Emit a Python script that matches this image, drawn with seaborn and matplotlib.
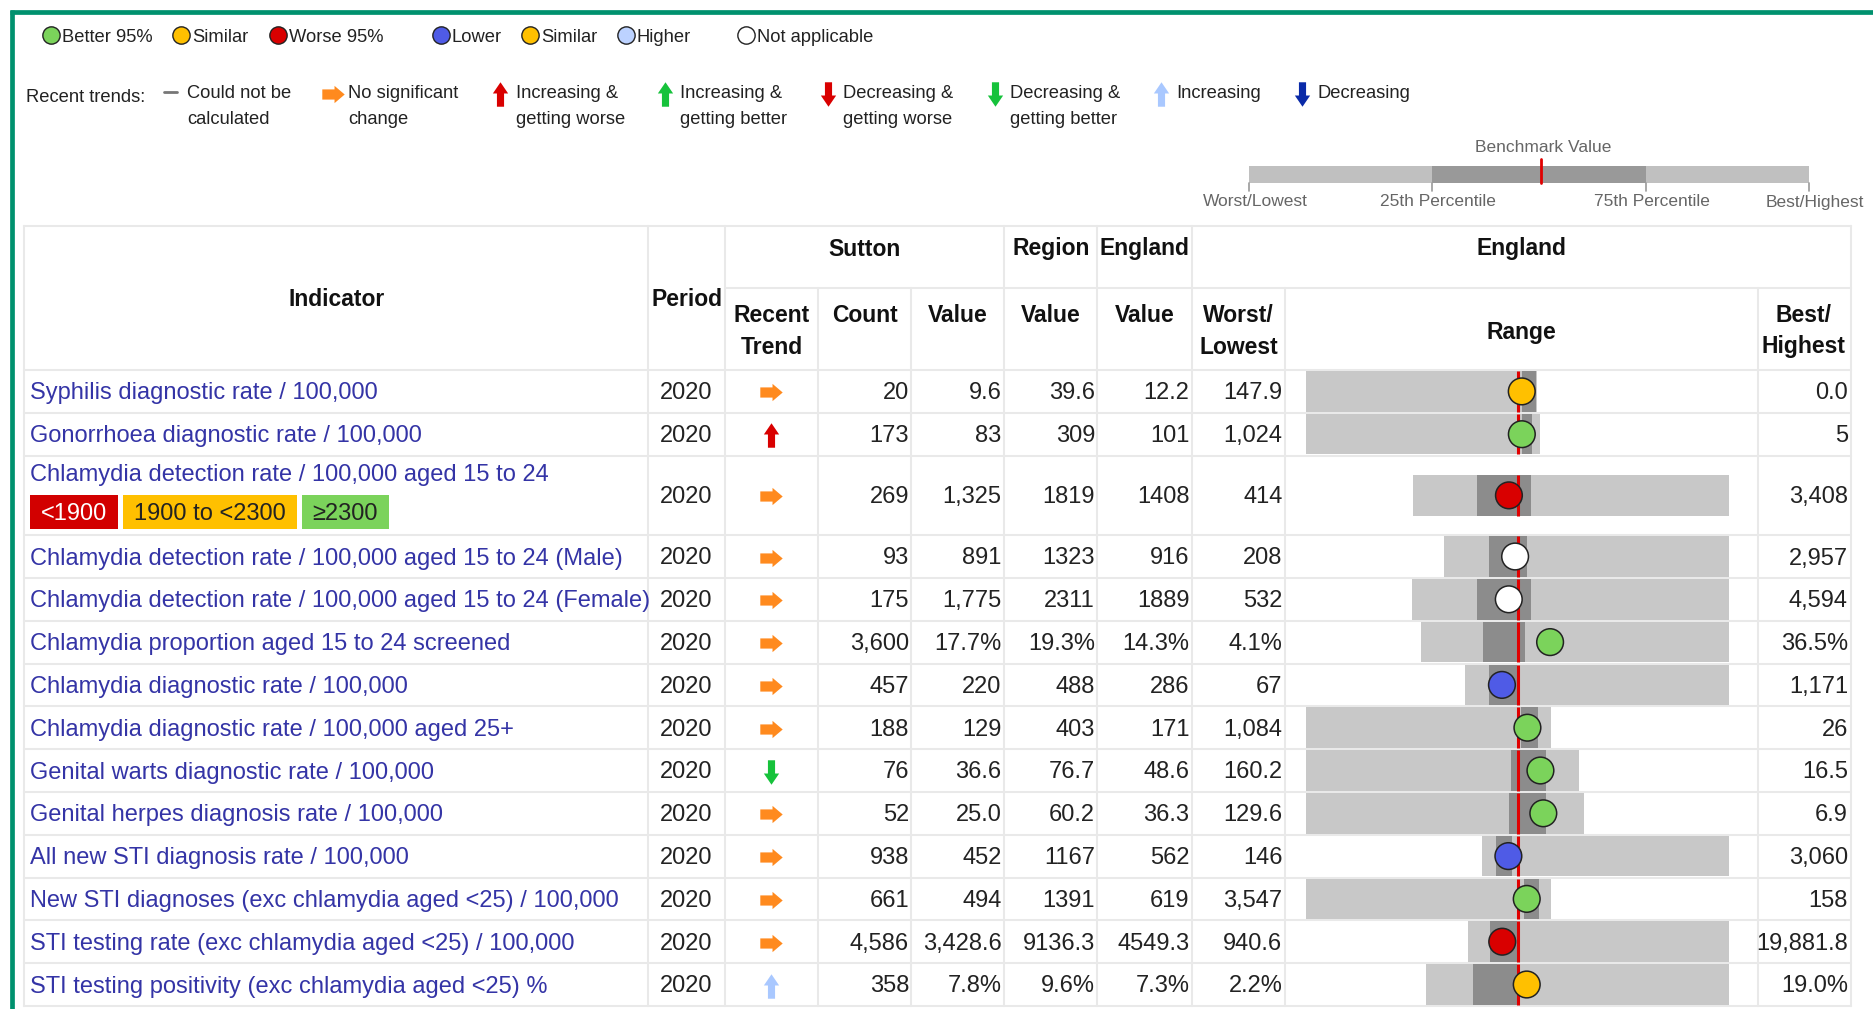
import numpy as np
import pandas as pd
import matplotlib.pyplot as plt
import seaborn as sns
from matplotlib.path import Path
from matplotlib.patches import Rectangle

# ---- data ----
indicators = ["Syphilis diagnostic rate / 100,000",
              "Gonorrhoea diagnostic rate / 100,000",
              "Chlamydia detection rate / 100,000 aged 15 to 24",
              "Chlamydia detection rate / 100,000 aged 15 to 24 (Male)",
              "Chlamydia detection rate / 100,000 aged 15 to 24 (Female)",
              "Chlamydia proportion aged 15 to 24 screened",
              "Chlamydia diagnostic rate / 100,000",
              "Chlamydia diagnostic rate / 100,000 aged 25+",
              "Genital warts diagnostic rate / 100,000",
              "Genital herpes diagnosis rate / 100,000",
              "All new STI diagnosis rate / 100,000",
              "New STI diagnoses (exc chlamydia aged <25) / 100,000",
              "STI testing rate (exc chlamydia aged <25) / 100,000",
              "STI testing positivity (exc chlamydia aged <25) %"]
periods = ["2020"] * 14
trends = ["flat", "up_worse", "flat", "flat", "flat", "flat", "flat", "flat",
          "down_better", "flat", "flat", "flat", "flat", "up"]
counts = ["20", "173", "269", "93", "175", "3,600", "457", "188", "76", "52",
          "938", "661", "4,586", "358"]
local_val = [9.6, 83, 1325, 891, 1775, 17.7, 220, 129, 36.6, 25.0, 452, 494, 3428.6, 7.8]
local_lbl = ["9.6", "83", "1,325", "891", "1,775", "17.7%", "220", "129", "36.6",
             "25.0", "452", "494", "3,428.6", "7.8%"]
region_lbl = ["39.6", "309", "1819", "1323", "2311", "19.3%", "488", "403", "76.7",
              "60.2", "1167", "1391", "9136.3", "9.6%"]
england_val = [12.2, 101, 1408, 916, 1889, 14.3, 286, 171, 48.6, 36.3, 562, 619, 4549.3, 7.3]
england_lbl = ["12.2", "101", "1408", "916", "1889", "14.3%", "286", "171", "48.6",
               "36.3", "562", "619", "4549.3", "7.3%"]
worst_val = [147.9, 1024, 414, 208, 532, 4.1, 67, 1084, 160.2, 129.6, 146, 3547, 940.6, 2.2]
worst_lbl = ["147.9", "1,024", "414", "208", "532", "4.1%", "67", "1,084", "160.2",
             "129.6", "146", "3,547", "940.6", "2.2%"]
best_val = [0.0, 5, 3408, 2957, 4594, 36.5, 1171, 26, 16.5, 6.9, 3060, 158, 19881.8, 19.0]
best_lbl = ["0.0", "5", "3,408", "2,957", "4,594", "36.5%", "1,171", "26", "16.5",
            "6.9", "3,060", "158", "19,881.8", "19.0%"]
# 25th / 75th percentile (estimated from the dark band)
q25_val = [9.3, 80.9, 1020, 639, 1365, 10.7, 166, 156.8, 52.3, 40.1, 302, 532, 2563, 4.84]
q75_val = [0.5, 37.3, 1534, 1009, 2059, 15.1, 283, 84.7, 33.7, 23.8, 491, 320, 4477, 7.25]
signif = ["similar", "better", "worse", "na", "na", "better", "lower", "better",
          "better", "better", "lower", "better", "worse", "similar"]
band_labels = ["<1900", "1900 to <2300", "\u22652300"]

# ---- style ----
sns.set_style("white")
plt.rcParams["font.family"] = ["Liberation Sans", "DejaVu Sans"]

sig_colors = {"better": "#7bd35b", "similar": "#ffc000", "worse": "#d90000",
              "lower": "#4f5be6", "higher": "#bcd2ff", "na": "#ffffff"}
grid_c = "#e9e9e9"
link_c = "#3434a6"
txt_c = "#222222"
light_c, dark_c, bench_c = "#c8c8c8", "#8c8c8c", "#e00000"
dy = 2  # text baseline nudge

W, H = 1873, 1009
fig = plt.figure(figsize=(W / 100, H / 100), dpi=100)
ax = fig.add_axes([0, 0, 1, 1])
ax.set_xlim(0, W)
ax.set_ylim(H, 0)
ax.axis("off")

# arrow markers
def arrow_right():
    v = [(-11, -5), (1, -5), (1, -8.5), (11, 0), (1, 8.5), (1, 5), (-11, 5), (-11, -5)]
    return Path(v, closed=True)

def arrow_up():
    v = [(-3.5, -12), (3.5, -12), (3.5, 1), (7.5, 1), (0, 12), (-7.5, 1), (-3.5, 1), (-3.5, -12)]
    return Path(v, closed=True)

def arrow_down():
    v = [(x, -y) for x, y in arrow_up().vertices]
    return Path(v, closed=True)

trend_style = {"flat": (arrow_right(), "#ff8a1e", 260),
               "up_worse": (arrow_up(), "#d90000", 310),
               "up_better": (arrow_up(), "#16c23b", 310),
               "down_worse": (arrow_down(), "#d90000", 310),
               "down_better": (arrow_down(), "#16c23b", 310),
               "up": (arrow_up(), "#a9c8ff", 310),
               "down": (arrow_down(), "#0a2aa8", 310)}

# ---- green frame ----
ax.plot([10, W], [11.5, 11.5], color="#00916e", lw=3.4, solid_capstyle="butt")
ax.plot([12.5, 12.5], [10, H], color="#00916e", lw=3.4, solid_capstyle="butt")

# ---- legends ----
leg_y = 35
circ = [(51, "better", "Better 95%"), (181.5, "similar", "Similar"), (278, "worse", "Worse 95%"),
        (441, "lower", "Lower"), (530.5, "similar", "Similar"), (626, "higher", "Higher"),
        (746.5, "na", "Not applicable")]
for x, k, lab in circ:
    ax.scatter(x, leg_y, s=155, color=sig_colors[k], edgecolor="#222", linewidth=1, zorder=3)
    ax.text(x + 11, leg_y + dy, lab, fontsize=13.2, color=txt_c, va="center", ha="left")

ax.text(26, 96 + dy, "Recent trends:", fontsize=13.2, color=txt_c, va="center")
ax.plot([164, 177], [92, 92], color="#777", lw=2)
ax.text(187.5, 92 + dy, "Could not be", fontsize=13.2, color=txt_c, va="center")
ax.text(187.5, 117 + dy, "calculated", fontsize=13.2, color=txt_c, va="center")
trend_leg = [(333, "flat", "No significant", "change"),
             (500.5, "up_worse", "Increasing &", "getting worse"),
             (665, "up_better", "Increasing &", "getting better"),
             (828, "down_worse", "Decreasing &", "getting worse"),
             (995, "down_better", "Decreasing &", "getting better"),
             (1161, "up", "Increasing", ""),
             (1302, "down", "Decreasing", "")]
for x, k, l1, l2 in trend_leg:
    mk, col, s = trend_style[k]
    ax.scatter(x, 94, marker=mk, s=s, color=col, linewidth=0, zorder=3)
    ax.text(x + 15.5, 92 + dy, l1, fontsize=13.2, color=txt_c, va="center")
    if l2:
        ax.text(x + 15.5, 117 + dy, l2, fontsize=13.2, color=txt_c, va="center")

# benchmark key
kx = [1249, 1432, 1646, 1809]
ax.add_patch(Rectangle((kx[0], 166), kx[3] - kx[0], 17, color="#c0c0c0", lw=0))
ax.add_patch(Rectangle((kx[1], 166), kx[2] - kx[1], 17, color="#999999", lw=0))
ax.plot([1541, 1541], [159, 183], color=bench_c, lw=2)
for x in kx:
    ax.plot([x, x], [183, 191], color="#999", lw=1.2)
ax.text(1543, 145 + dy, "Benchmark Value", fontsize=12.5, color="#666", ha="center", va="center")
for x, lab in zip(kx, ["Worst/Lowest", "25th Percentile", "75th Percentile", "Best/Highest"]):
    ax.text(x + 6, 200 + dy, lab, fontsize=12.5, color="#666", ha="center", va="center")

# ---- table grid ----
cols = [24, 648, 725, 818, 911.5, 1004, 1097.5, 1192, 1285, 1758, 1851]
h_top, h_mid, h_bot = 226, 288, 370
row_h = np.full(14, 42.8)
row_h[2] = 79.5
edges = h_bot + np.concatenate([[0], np.cumsum(row_h)])
centers = (edges[:-1] + edges[1:]) / 2
bottom = edges[-1]

glw = 1.5
ax.plot([cols[0], cols[-1]], [h_top, h_top], color=grid_c, lw=glw)
ax.plot([cols[2], cols[-1]], [h_mid, h_mid], color=grid_c, lw=glw)
for e in edges:
    ax.plot([cols[0], cols[-1]], [e, e], color=grid_c, lw=glw)
for x in [24, 648, 725, 1004, 1097.5, 1192, 1851]:
    ax.plot([x, x], [h_top, bottom], color=grid_c, lw=glw)
for x in [818, 911.5, 1285, 1758]:
    ax.plot([x, x], [h_mid, bottom], color=grid_c, lw=glw)

# ---- header ----
hfs = 16.5
hb = dict(fontsize=hfs, fontweight="bold", color="#111", ha="center", va="center")
ax.text(337, 298 + dy, "Indicator", **hb)
ax.text(687, 298 + dy, "Period", **hb)
ax.text(864.5, 247 + dy, "Sutton", **hb)
ax.text(1050.7, 247 + dy, "Region", **hb)
ax.text(1144.7, 247 + dy, "England", **hb)
ax.text(1521.5, 247 + dy, "England", **hb)
ax.text(771.5, 313 + dy, "Recent", **hb)
ax.text(771.5, 345 + dy, "Trend", **hb)
ax.text(864.7, 313 + dy, "Count", **hb)
for c in [957.7, 1050.7, 1144.7]:
    ax.text(c, 313 + dy, "Value", **hb)
ax.text(1238.5, 313 + dy, "Worst/", **hb)
ax.text(1238.5, 345 + dy, "Lowest", **hb)
ax.text(1521.5, 330 + dy, "Range", **hb)
ax.text(1804, 313 + dy, "Best/", **hb)
ax.text(1804, 345 + dy, "Highest", **hb)

# ---- body ----
bfs = 17
for i in range(14):
    y = centers[i]
    if i == 2:
        ax.text(30, 473 + dy, indicators[i], fontsize=bfs, color=link_c, va="center")
    else:
        ax.text(30, y + dy, indicators[i], fontsize=bfs, color=link_c, va="center")
    ax.text(686.5, y + dy, periods[i], fontsize=bfs, color=txt_c, ha="center", va="center")
    mk, col, s = trend_style[trends[i]]
    ax.scatter(771.5, y + 1, marker=mk, s=s, color=col, linewidth=0, zorder=3)
    for right, lab in zip(cols[4:9], [counts[i], local_lbl[i], region_lbl[i],
                                      england_lbl[i], worst_lbl[i]]):
        ax.text(right - 2.5, y + dy, lab, fontsize=bfs, color=txt_c, ha="right", va="center")
    ax.text(cols[-1] - 3, y + dy, best_lbl[i], fontsize=bfs, color=txt_c, ha="right", va="center")

# colour bands for chlamydia detection rate
band_x = [(30, 118), (123, 297.5), (302, 389)]
band_fc = ["#d20000", "#ffc000", "#7bd35b"]
band_tc = ["white", "#222", "#222"]
for (x0, x1), lab, fc, tc in zip(band_x, band_labels, band_fc, band_tc):
    ax.add_patch(Rectangle((x0, 494.5), x1 - x0, 34.5, color=fc, lw=0))
    ax.text((x0 + x1) / 2, 512 + dy, lab, fontsize=bfs, color=tc, ha="center", va="center")

# ---- spine chart in the Range column ----
df = pd.DataFrame({"E": england_val, "W": worst_val, "B": best_val, "Q1": q25_val,
                   "Q3": q75_val, "L": local_val, "sig": signif, "y": centers})
half = np.maximum((df.W - df.E).abs(), (df.B - df.E).abs())
sign = np.where(df.B > df.W, 1.0, -1.0)
for c in ["W", "B", "Q1", "Q3", "L"]:
    df["u" + c] = sign * (df[c] - df.E) / half

unit = 211.5  # px per spine half-width
centre_px = 1517.7
sax = fig.add_axes([cols[8] / W, 1 - bottom / H, (cols[9] - cols[8]) / W, (bottom - h_bot) / H])
sax.patch.set_alpha(0)

bar_h = 40.5
lo = np.minimum(df.uW, df.uB)
hi = np.maximum(df.uW, df.uB)
sax.barh(df.y, hi - lo, left=lo, height=bar_h, color=light_c, lw=0, zorder=1)
qlo = np.minimum(df.uQ1, df.uQ3)
qhi = np.maximum(df.uQ1, df.uQ3)
sax.barh(df.y, qhi - qlo, left=qlo, height=bar_h, color=dark_c, lw=0, zorder=2)
sax.vlines(np.zeros(14), df.y - bar_h / 2, df.y + bar_h / 2, color=bench_c, lw=2.2, zorder=3)
sns.scatterplot(data=df, x="uL", y="y", hue="sig", palette=sig_colors, s=370,
                edgecolor="#222", linewidth=1.1, legend=False, ax=sax, zorder=5)
sax.set_xlim((cols[8] - centre_px) / unit, (cols[9] - centre_px) / unit)
sax.set_ylim(bottom, h_bot)
sax.axis("off")

fig.savefig("out.png", dpi=100)
